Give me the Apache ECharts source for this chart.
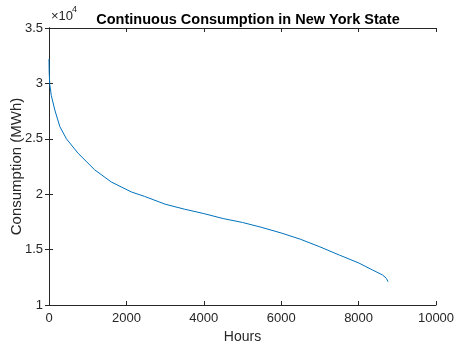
<!DOCTYPE html>
<html><head><meta charset="utf-8">
<script src="https://cdn.jsdelivr.net/npm/echarts@6/dist/echarts.min.js"></script>
<style>html,body{margin:0;padding:0;background:#fff}#c{width:455px;height:345px}</style>
</head><body><div id="c"></div>
<script>
var hours = [0, 5, 20, 60, 150, 280, 450, 750, 1180, 1610, 2130, 2470, 3000, 3500, 4000, 4500, 5000, 5500, 6000, 6500, 7000, 7500, 8000, 8360, 8620, 8720, 8760];
var consumption = [32200, 31000, 29900, 28900, 27600, 26100, 25000, 23700, 22200, 21100, 20200, 19800, 19100, 18650, 18250, 17800, 17450, 17000, 16500, 15930, 15250, 14510, 13800, 13160, 12710, 12400, 12100];
var xTicks = [0, 2000, 4000, 6000, 8000, 10000];
var yTicks = [10000, 15000, 20000, 25000, 30000, 35000];

var font = 'Liberation Sans, Arial, Helvetica, sans-serif';
var axisColor = '#262626';
var chart = echarts.init(document.getElementById('c'));
var pts = hours.map(function (h, i) { return [h, consumption[i]]; });
var common = {
  axisLine: { show: true, lineStyle: { color: axisColor, width: 1 } },
  axisTick: { show: true, inside: true, length: 4, lineStyle: { color: axisColor } },
  splitLine: { show: false }
};
chart.setOption({
  animation: false,
  backgroundColor: '#fff',
  title: {
    text: 'Continuous Consumption in New York State',
    left: 243, textAlign: 'center', top: 7,
    textStyle: { fontFamily: font, fontWeight: 'bold', fontSize: 14.5, color: '#000' }
  },
  grid: { left: 49, right: 19, top: 28, bottom: 40, containLabel: false, outerBoundsMode: 'none' },
  xAxis: [
    Object.assign({
      type: 'value', min: xTicks[0], max: xTicks[xTicks.length - 1], interval: 2000,
      name: 'Hours', nameLocation: 'middle', nameGap: 25, nameMoveOverlap: false,
      nameTextStyle: { fontFamily: font, fontSize: 14, color: axisColor },
      axisLabel: { fontFamily: font, fontSize: 13, color: axisColor, margin: 7,
        formatter: function (v) { return String(v); } }
    }, common),
    Object.assign({
      type: 'value', position: 'top', min: xTicks[0], max: xTicks[xTicks.length - 1], interval: 2000,
      axisLabel: { show: false }
    }, common)
  ],
  yAxis: [
    Object.assign({
      type: 'value', min: yTicks[0], max: yTicks[yTicks.length - 1], interval: 5000,
      name: 'Consumption (MWh)', nameLocation: 'middle', nameGap: 25, nameMoveOverlap: false,
      nameTextStyle: { fontFamily: font, fontSize: 15, color: axisColor },
      axisLabel: { fontFamily: font, fontSize: 13, color: axisColor, margin: 6,
        formatter: function (v) { return String(v / 10000); } }
    }, common),
    Object.assign({
      type: 'value', position: 'right', min: yTicks[0], max: yTicks[yTicks.length - 1], interval: 5000,
      axisLabel: { show: false }
    }, common)
  ],
  graphic: [
    { type: 'text', left: 51, top: 10,
      style: { text: '×10', font: '13px ' + font, fill: axisColor } },
    { type: 'text', left: 72, top: 5,
      style: { text: '4', font: '9px ' + font, fill: axisColor } }
  ],
  series: [{
    type: 'line', data: pts, showSymbol: false, smooth: false,
    xAxisIndex: 0, yAxisIndex: 0,
    lineStyle: { color: '#0072BD', width: 1 }
  }]
});
</script></body></html>
